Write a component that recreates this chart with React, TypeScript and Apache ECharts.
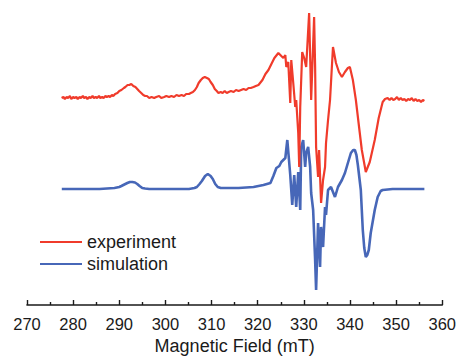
import React, { useEffect, useRef } from "react";
import * as echarts from "echarts";

// Magnetic field (mT) and intensity (arbitrary units)
const expField = [
  277.5, 277.9, 278.2, 278.6, 278.9, 279.3, 279.6, 280.0, 280.3, 280.7, 281.0, 281.4, 281.7, 282.1,
  282.4, 282.8, 283.1, 283.5, 283.8, 284.2, 284.5, 284.9, 285.2, 285.6, 285.9, 286.3, 286.6, 287.0,
  287.3, 287.7, 288.0, 288.4, 288.7, 289.1, 289.6, 290.0, 290.46, 291.0, 291.32, 291.8, 292.18,
  292.6, 293.04, 293.5, 293.9, 294.3, 294.76, 295.2, 295.62, 296.0, 296.49, 297.0, 297.56, 298.0,
  298.64, 299.1, 299.72, 300.2, 300.79, 301.3, 301.87, 302.4, 302.95, 303.5, 304.02, 304.5, 305.1,
  305.5, 305.96, 306.4, 306.82, 307.2, 307.68, 308.1, 308.54, 309.0, 309.41, 309.8, 310.27, 310.7,
  311.13, 311.5, 311.99, 312.4, 312.85, 313.3, 313.71, 314.2, 314.79, 315.3, 315.87, 316.4, 316.94,
  317.5, 318.02, 318.5, 319.1, 319.6, 320.17, 321.03, 321.68, 322.33, 322.97, 323.62, 324.48,
  325.12, 325.56, 325.99, 326.2, 326.63, 327.06, 327.28, 327.71, 328.14, 328.35, 328.79, 329.0,
  329.22, 329.65, 330.08, 330.51, 331.15, 331.59, 332.23, 332.45, 332.66, 333.09, 333.31, 333.74,
  334.17, 334.6, 334.81, 335.25, 335.68, 336.32, 336.97, 337.61, 338.26, 338.91, 339.55, 339.98,
  340.63, 341.28, 341.92, 342.57, 343.43, 344.29, 345.37, 346.23, 347.09, 347.6, 348.17, 348.6,
  349.0, 349.4, 349.8, 350.2, 350.6, 351.0, 351.4, 351.8, 352.2, 352.6, 353.0, 353.4, 353.8, 354.2,
  354.6, 355.0, 355.4, 355.8, 356.13,
];
const expIntensity = [
  207, 208, 206, 208, 207, 209, 206, 208, 207, 208, 206, 208, 207, 209,
  207, 208, 206, 208, 207, 209, 207, 208, 207, 209, 207, 208, 207, 209,
  208, 209, 208, 210, 209, 211, 212, 214, 215, 217, 218, 220, 220,
  221, 219, 218, 216, 214, 212, 210, 209, 209, 207, 208, 207, 208,
  209, 207, 208, 209, 208, 209, 208, 210, 209, 210, 209, 211, 211,
  212, 213, 215, 218, 222, 225, 227, 228, 227, 226, 223, 220, 216,
  214, 212, 213, 212, 214, 212, 213, 214, 213, 215, 214, 215, 216,
  215, 217, 217, 218, 219, 220, 225, 231, 235, 241, 247, 252,
  249, 247, 250, 238, 243, 202, 245, 222, 198, 205, 172, 138,
  198, 253, 247, 238, 292, 205, 288, 238, 158, 128, 155, 102,
  125, 138, 162, 185, 205, 258, 242, 233, 228, 233, 237, 238,
  225, 205, 180, 155, 133, 143, 165, 187, 203, 206, 207, 205,
  207, 205, 206, 208, 205, 207, 205, 206, 204, 206, 205, 207, 204, 206,
  204, 205, 203, 205, 204,
];

const simField = [
  277.54, 281.41, 285.72, 288.95, 290.0, 290.46, 291.1, 291.75, 292.3, 292.83, 293.4, 293.9, 294.4,
  294.98, 295.6, 296.49, 300.79, 305.1, 306.3, 306.82, 307.4, 307.9, 308.6, 309.19, 309.8, 310.27,
  310.8, 311.34, 312.0, 312.64, 315.87, 319.1, 321.25, 322.76, 323.4, 324.05, 324.69, 325.12,
  325.99, 326.42, 327.06, 327.49, 327.92, 328.35, 328.79, 329.22, 329.43, 329.86, 330.29, 330.51,
  330.94, 331.37, 331.59, 332.02, 332.45, 332.66, 333.09, 333.52, 333.74, 334.17, 334.6, 334.81,
  335.25, 335.89, 336.75, 337.4, 338.26, 338.91, 339.55, 340.2, 340.7, 341.06, 341.4, 341.71,
  342.35, 342.78, 343.1, 343.43, 343.75, 344.08, 344.5, 345.37, 346.01, 346.66, 347.09, 349.24,
  352.47, 356.13,
];
const simIntensity = [
  116, 116, 116, 117, 118, 119, 120.5, 122, 123, 123, 122.5, 121, 119,
  117, 116.5, 116, 116, 116, 117, 118, 121, 124, 129, 131, 129, 126,
  121, 118, 117, 117, 117, 118, 120, 122, 129, 137, 139, 143,
  147, 165, 130, 100, 130, 98, 133, 95, 158, 165, 138, 152,
  158, 138, 112, 95, 45, 15, 82, 38, 78, 58, 98, 90,
  115, 118, 108, 118, 125, 132, 142, 152, 155, 155, 150, 140,
  115, 75, 57, 48, 50, 55, 72, 95, 108, 114, 115, 116,
  116, 116,
];

const xTicks = { min: 270, max: 360, interval: 10 };
const seriesNames = ["experiment", "simulation"];
const seriesColors = ["#F03B2B", "#4767B8"];

const FONT = "'Liberation Sans', Arial, Helvetica, sans-serif";

export default function App() {
  const ref = useRef<HTMLDivElement>(null);
  useEffect(() => {
    document.body.style.margin = "0";
    const chart = echarts.init(ref.current!, null, { renderer: "svg" });
    const zip = (xs: number[], ys: number[]) => xs.map((x, i) => [x, ys[i]]);
    chart.setOption({
      animation: false,
      backgroundColor: "#ffffff",
      grid: { left: 27, right: 14, top: 0, bottom: 56 },
      legend: {
        orient: "vertical",
        left: 40,
        top: 233,
        padding: 0,
        icon: "rect",
        itemWidth: 42,
        itemHeight: 2,
        itemGap: 4,
        textStyle: { fontFamily: FONT, fontSize: 18, color: "#1a1a1a" },
        data: seriesNames,
      },
      xAxis: {
        type: "value",
        min: xTicks.min,
        max: xTicks.max,
        interval: xTicks.interval,
        name: "Magnetic Field (mT)",
        nameLocation: "middle",
        nameGap: 26,
        nameTextStyle: { fontFamily: FONT, fontSize: 18, color: "#1a1a1a" },
        axisLine: { lineStyle: { color: "#1a1a1a", width: 1.6 } },
        axisTick: { inside: true, length: 5, lineStyle: { color: "#1a1a1a", width: 1.4 } },
        minorTick: { show: true, splitNumber: 2, length: 3, lineStyle: { color: "#1a1a1a", width: 1.4 } },
        axisLabel: { fontFamily: FONT, fontSize: 16.5, color: "#1a1a1a", margin: 10 },
        splitLine: { show: false },
      },
      yAxis: {
        type: "value",
        min: 0,
        max: 305,
        show: false,
      },
      series: [
        {
          name: seriesNames[0],
          type: "line",
          data: zip(expField, expIntensity),
          showSymbol: false,
          symbol: "none",
          z: 3,
          lineStyle: { color: seriesColors[0], width: 2.2 },
          itemStyle: { color: seriesColors[0] },
        },
        {
          name: seriesNames[1],
          type: "line",
          data: zip(simField, simIntensity),
          showSymbol: false,
          symbol: "none",
          z: 2,
          lineStyle: { color: seriesColors[1], width: 2.6 },
          itemStyle: { color: seriesColors[1] },
        },
      ],
    });
    return () => chart.dispose();
  }, []);
  return <div ref={ref} style={{ width: 459, height: 361 }} />;
}
